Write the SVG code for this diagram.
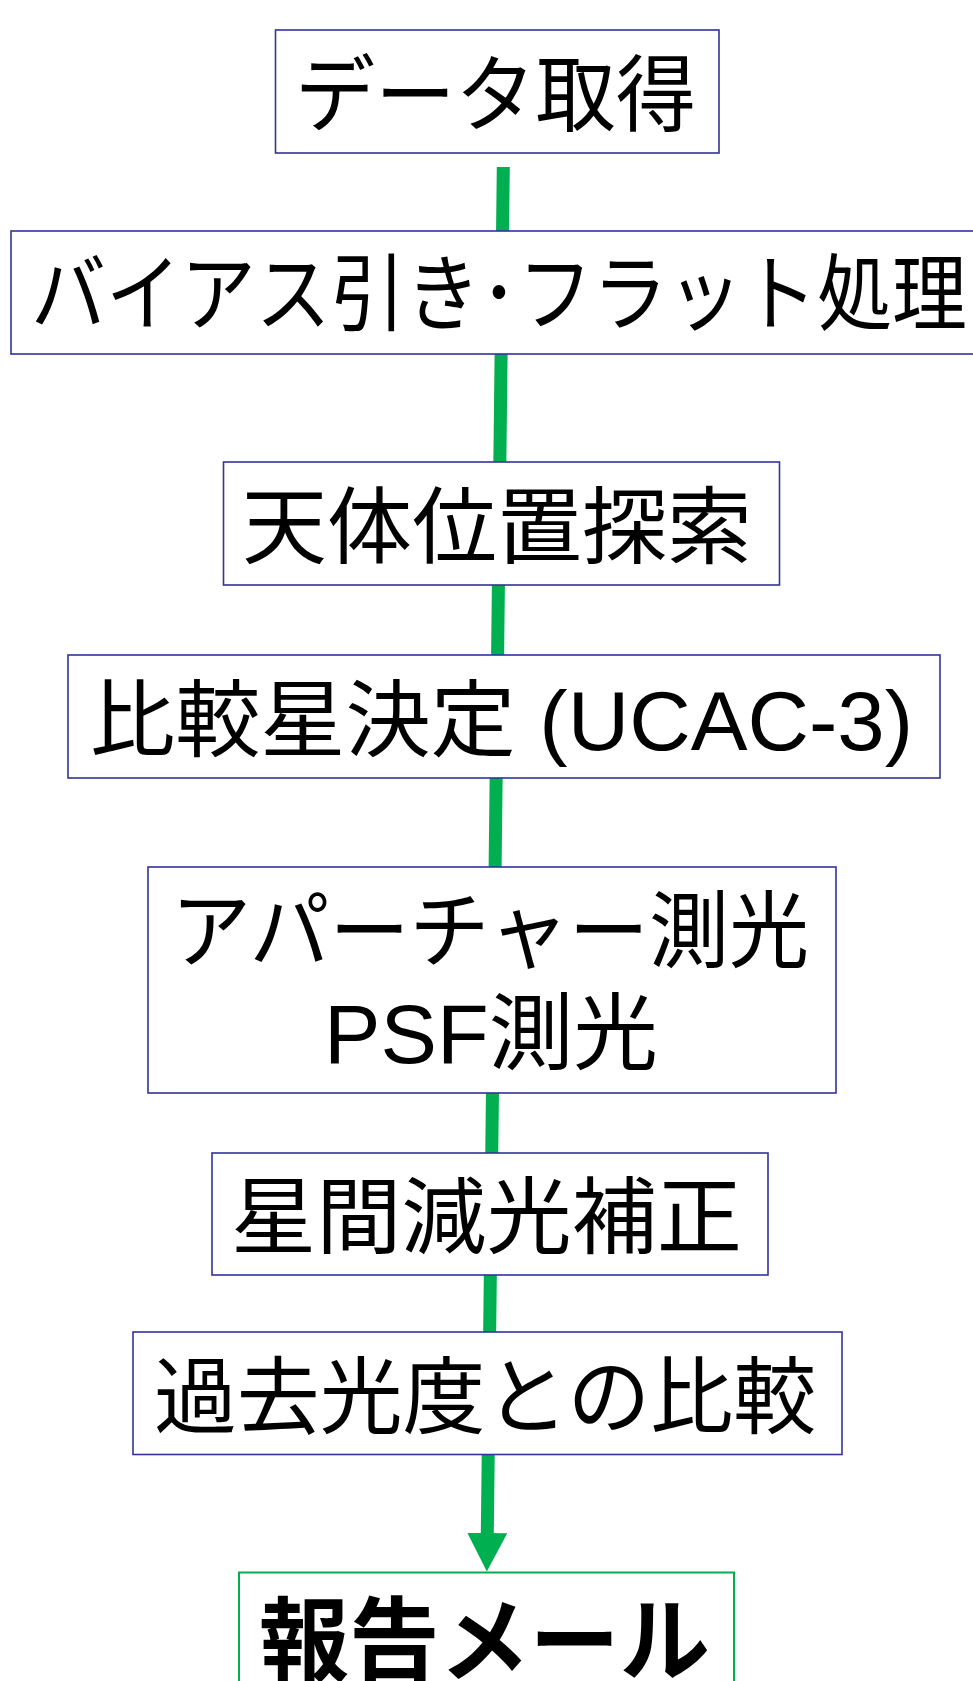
<svg xmlns="http://www.w3.org/2000/svg" width="973" height="1681" viewBox="0 0 973 1681">
  <style>
    .box { fill: #ffffff; stroke: #333399; stroke-width: 1.6; }
    .end { fill: #ffffff; stroke: #00b050; stroke-width: 2; }
    .t { font-family: "Liberation Sans", "Noto Sans CJK JP", sans-serif; font-size: 84px; fill: #000000; }
    .tb { font-family: "Noto Sans CJK JP", sans-serif; font-size: 92px; font-weight: bold; fill: #000000; }
    .flow { stroke: #00b050; stroke-width: 13; fill: none; }
  </style>
  <defs>
    <marker id="arrow" markerUnits="userSpaceOnUse" viewBox="0 0 39 40" refX="0" refY="20" markerWidth="39" markerHeight="40" orient="auto">
      <path d="M0,0 L38.5,20 L0,40 z" fill="#00b050"/>
    </marker>
  </defs>
  <rect x="0" y="0" width="973" height="1681" fill="#ffffff"/>
  <g id="connectors">
    <line class="flow" x1="503.3" y1="167" x2="487.3" y2="1533" marker-end="url(#arrow)"/>
  </g>
  <g id="n1">
    <rect class="box" x="275.5" y="30" width="443.5" height="123"/>
    <text class="t" x="295" y="125" textLength="401" lengthAdjust="spacingAndGlyphs">データ取得</text>
  </g>
  <g id="n2">
    <rect class="box" x="11" y="231" width="980" height="123"/>
    <text class="t" x="31" y="324" textLength="936" lengthAdjust="spacingAndGlyphs">バイアス引き･フラット処理</text>
  </g>
  <g id="n3">
    <rect class="box" x="223.5" y="462" width="556" height="123"/>
    <text class="t" x="242" y="557" textLength="510" lengthAdjust="spacingAndGlyphs">天体位置探索</text>
  </g>
  <g id="n4">
    <rect class="box" x="68" y="655" width="872" height="123"/>
    <text class="t" x="90" y="750" textLength="823" lengthAdjust="spacingAndGlyphs">比較星決定 (UCAC-3)</text>
  </g>
  <g id="n5">
    <rect class="box" x="148" y="867" width="688" height="226"/>
    <text class="t" x="171" y="961" textLength="638" lengthAdjust="spacingAndGlyphs">アパーチャー測光</text>
    <text class="t" x="324" y="1063" textLength="334" lengthAdjust="spacingAndGlyphs">PSF測光</text>
  </g>
  <g id="n6">
    <rect class="box" x="212" y="1153" width="556" height="122"/>
    <text class="t" x="231" y="1247" textLength="511" lengthAdjust="spacingAndGlyphs">星間減光補正</text>
  </g>
  <g id="n7">
    <rect class="box" x="133" y="1332" width="709" height="122.5"/>
    <text class="t" x="154" y="1427" textLength="662" lengthAdjust="spacingAndGlyphs">過去光度との比較</text>
  </g>
  <g id="n8">
    <rect class="end" x="239" y="1572.5" width="495" height="130"/>
    <text class="tb" x="259" y="1674" textLength="451" lengthAdjust="spacingAndGlyphs">報告メール</text>
  </g>
</svg>
